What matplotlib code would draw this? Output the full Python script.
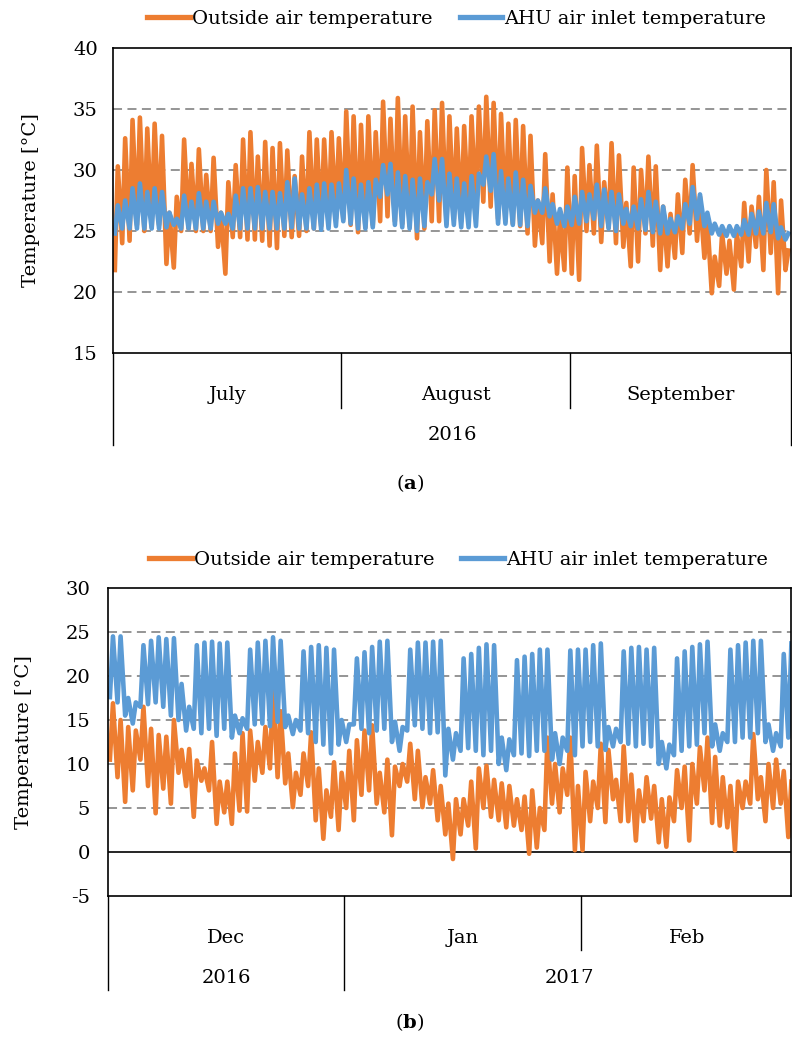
# -*- coding: utf-8 -*-

import numpy as np
import matplotlib
matplotlib.use("Agg")
import matplotlib.pyplot as plt

ORANGE = "#ED7D31"
BLUE = "#5B9BD5"
GRID_GRAY = "#8C8C8C"
FONT_SIZE = 14

# (a) summer 2016, one (min, max) pair per day
MONTHS_A = ["July", "August", "September"]
MONTH_DAYS_A = [31, 31, 30]
YEARS_A = ["2016"]
YEAR_DAYS_A = [92]

OUT_MAX_A = [
    30.3, 32.6, 34.1, 34.3, 33.4, 33.8, 32.8, 26.5, 27.8, 32.5, 30.5, 31.7, 29.6, 31.0, 26.5, 29.0,
    30.4, 32.5, 33.1, 31.1, 32.3, 31.8, 32.2, 31.6, 29.5, 31.1, 33.1, 32.5, 32.5, 33.1, 32.6,
    34.8, 34.4, 33.7, 34.4, 33.1, 35.6, 34.2, 35.9, 34.4, 35.2, 33.1, 34.0, 34.9, 35.5, 34.4, 33.4,
    33.6, 34.4, 35.2, 36.0, 35.5, 34.6, 33.8, 34.1, 33.6, 32.8, 27.5, 31.3, 28.0, 26.0, 30.2,
    29.5, 31.8, 30.4, 32.0, 29.0, 32.2, 31.2, 27.3, 30.2, 30.0, 31.1, 30.3, 27.0, 26.4, 28.0,
    29.2, 30.4, 27.8, 25.9, 22.9, 24.8, 24.2, 24.8, 27.3, 27.0, 27.8, 30.0, 29.0, 27.5, 23.4]
OUT_MIN_A = [
    21.8, 24.0, 24.2, 25.5, 25.0, 25.3, 25.5, 22.3, 22.0, 25.0, 25.2, 25.0, 25.0, 25.0, 23.7, 21.5,
    24.5, 24.5, 24.3, 24.3, 24.2, 23.8, 23.6, 24.6, 24.5, 24.6, 25.0, 25.2, 25.4, 25.5, 26.0,
    26.0, 25.5, 24.9, 25.3, 25.5, 25.8, 26.2, 25.8, 25.6, 25.4, 24.4, 25.2, 25.8, 25.8, 25.6, 26.0,
    25.8, 26.2, 26.8, 27.4, 27.0, 26.0, 25.8, 25.6, 25.4, 24.8, 23.8, 24.0, 22.5, 21.5, 21.8,
    21.5, 21.0, 25.0, 24.8, 24.1, 25.3, 24.0, 23.7, 22.1, 22.5, 24.8, 23.8, 21.8, 22.1, 22.8,
    23.2, 24.8, 24.2, 22.8, 19.9, 20.5, 21.5, 20.2, 22.1, 22.5, 23.7, 21.8, 23.2, 19.9, 21.8]
AHU_MAX_A = [
    27.1, 27.5, 28.5, 28.9, 28.2, 28.5, 28.2, 26.5, 26.0, 27.9, 27.4, 28.1, 27.4, 27.4, 26.5, 26.4,
    27.9, 28.5, 28.5, 28.6, 28.2, 28.2, 28.1, 29.0, 29.3, 28.0, 28.5, 28.8, 28.9, 28.8, 28.9,
    30.0, 29.3, 28.8, 29.0, 29.2, 30.4, 30.5, 29.8, 29.5, 29.2, 29.3, 29.0, 30.9, 30.9, 29.7, 29.3,
    28.9, 29.5, 29.7, 31.1, 31.3, 29.9, 29.3, 29.8, 29.2, 28.7, 27.5, 28.5, 27.2, 26.8, 27.0,
    27.8, 28.2, 28.0, 28.8, 28.4, 28.2, 28.0, 26.8, 27.0, 27.6, 28.2, 27.4, 27.0, 26.0, 26.2,
    27.2, 28.6, 28.0, 26.5, 25.6, 25.4, 25.4, 25.4, 25.9, 26.4, 26.6, 27.3, 27.2, 25.3, 24.8]
AHU_MIN_A = [
    24.8, 25.2, 25.2, 25.2, 25.2, 25.2, 25.2, 25.3, 25.5, 25.2, 25.2, 25.2, 25.2, 25.2, 25.6, 25.6,
    25.2, 25.2, 25.2, 25.2, 25.2, 25.2, 25.2, 25.2, 25.3, 25.2, 25.2, 25.2, 25.1, 25.2, 25.4,
    25.8, 25.6, 25.2, 25.2, 25.3, 27.8, 28.0, 25.5, 25.3, 25.2, 25.0, 25.4, 28.0, 27.5, 25.4, 25.5,
    25.3, 25.3, 25.4, 28.8, 28.3, 25.6, 25.6, 25.5, 25.5, 25.4, 26.5, 26.5, 26.2, 25.6, 25.4,
    25.5, 25.6, 25.8, 26.0, 25.4, 25.2, 25.0, 25.6, 25.4, 25.2, 25.1, 24.9, 24.8, 24.8, 24.9,
    25.2, 25.6, 26.0, 25.4, 24.8, 24.7, 24.6, 24.6, 24.7, 24.7, 24.8, 24.8, 24.9, 24.4, 24.3]

# (b) winter 2016/2017
MONTHS_B = ["Dec", "Jan", "Feb"]
MONTH_DAYS_B = [31, 31, 28]
YEARS_B = ["2016", "2017"]
YEAR_DAYS_B = [31, 59]

OUT_MAX_B = [
    16.9, 15.0, 14.2, 13.8, 16.5, 14.0, 13.3, 13.1, 15.0, 11.6, 11.7, 10.4, 9.5, 12.5, 8.0, 8.0,
    11.2, 13.5, 13.8, 12.5, 14.2, 18.8, 16.0, 11.2, 9.0, 11.2, 13.6, 9.5, 7.0, 10.2, 9.0,
    11.5, 12.7, 13.8, 14.4, 9.0, 10.5, 9.7, 10.0, 12.3, 11.5, 8.5, 9.3, 7.5, 5.5, 6.0, 6.0,
    8.0, 9.5, 9.8, 8.2, 7.8, 7.5, 6.0, 6.3, 7.0, 5.0, 13.0, 10.0, 9.5, 13.0, 7.5,
    9.1, 8.0, 12.3, 11.6, 8.2, 12.0, 8.8, 7.0, 8.5, 7.5, 6.0, 6.2, 9.3, 9.7,
    10.0, 11.9, 13.0, 10.8, 8.5, 7.5, 8.0, 8.0, 13.4, 8.5, 10.0, 10.5, 9.2, 8.0]
OUT_MIN_B = [
    10.5, 8.5, 5.7, 7.0, 10.5, 7.5, 4.4, 7.2, 5.5, 9.0, 7.5, 4.0, 8.1, 7.0, 3.2, 4.5,
    3.2, 4.7, 4.6, 8.1, 9.0, 9.5, 8.5, 7.8, 5.1, 6.5, 7.5, 3.6, 1.5, 4.0, 2.5,
    5.0, 3.6, 6.5, 7.0, 5.5, 4.5, 1.9, 7.5, 8.0, 6.0, 5.1, 5.5, 3.6, 2.0, -0.8, 2.0,
    3.0, 0.4, 5.0, 4.0, 3.6, 2.8, 3.0, 2.5, -0.2, 0.5, 2.5, 5.5, 4.5, 6.5, 0.2,
    0.2, 3.5, 5.0, 3.4, 6.0, 3.5, 3.5, 1.3, 3.5, 3.8, 1.1, 0.6, 3.5, 5.0,
    1.3, 5.5, 7.0, 3.3, 3.0, 2.8, 0.2, 5.0, 5.5, 6.0, 3.5, 5.0, 5.5, 1.7]
AHU_MAX_B = [
    24.5, 24.5, 17.5, 17.0, 23.5, 24.0, 24.4, 24.2, 24.3, 19.1, 16.5, 23.5, 23.8, 23.9, 23.7, 23.8,
    15.5, 15.2, 23.0, 23.8, 24.0, 24.4, 24.0, 15.5, 15.0, 22.8, 23.3, 23.5, 23.2, 23.0, 15.0,
    14.5, 22.0, 22.7, 23.3, 23.9, 24.0, 14.8, 14.2, 23.0, 23.8, 23.8, 23.9, 24.0, 14.0, 13.5, 22.0,
    22.5, 23.2, 23.6, 23.5, 13.0, 12.8, 21.8, 22.2, 22.5, 23.0, 23.0, 13.5, 13.0, 22.9, 23.0,
    23.0, 23.5, 23.7, 14.2, 14.0, 22.8, 23.2, 23.3, 23.0, 23.2, 12.5, 12.2, 22.0, 22.8,
    23.3, 23.6, 23.9, 14.5, 13.5, 23.0, 23.5, 23.8, 24.0, 24.0, 14.5, 13.5, 22.5, 23.7]
AHU_MIN_B = [
    17.6, 17.0, 15.5, 14.6, 16.5, 16.8, 17.0, 16.5, 15.5, 15.0, 13.8, 14.0, 13.5, 14.0, 13.2, 14.0,
    13.0, 13.5, 14.0, 14.5, 14.6, 14.3, 14.8, 14.2, 13.4, 13.8, 13.5, 12.5, 12.2, 11.2, 12.2,
    12.5, 14.5, 14.0, 13.5, 13.8, 14.0, 12.5, 11.5, 13.8, 14.4, 14.0, 13.5, 13.6, 8.7, 10.5, 11.5,
    11.8, 11.5, 11.0, 11.5, 10.0, 9.3, 11.0, 11.2, 10.9, 11.5, 11.5, 10.5, 10.0, 11.5, 11.0,
    12.0, 12.5, 12.0, 11.6, 12.0, 12.5, 12.3, 12.0, 12.3, 12.0, 10.0, 9.5, 11.0, 11.5,
    12.0, 12.2, 13.5, 12.0, 11.5, 12.5, 12.5, 13.0, 13.0, 13.5, 12.5, 11.5, 12.0, 13.0]


def daily_series(day_min, day_max):
    # two readings per day: night low, then afternoon high
    days = np.arange(len(day_min))
    t = np.column_stack([days + 0.25, days + 0.65]).ravel()
    v = np.column_stack([day_min, day_max]).ravel()
    return t, v


def draw_category_axis(ax, months, month_days, years, year_days, row1, row2, lab1, lab2):
    tr = ax.get_xaxis_transform()
    month_edges = np.concatenate([[0], np.cumsum(month_days)])
    year_edges = np.concatenate([[0], np.cumsum(year_days)])

    for e in month_edges:
        low = row2 if e in year_edges else row1
        ax.plot([e, e], [0, low], color="black", lw=1.0, transform=tr, clip_on=False)

    for i, name in enumerate(months):
        c = (month_edges[i] + month_edges[i + 1]) / 2.0
        ax.text(c, lab1, name, transform=tr, ha="center", va="center", fontsize=FONT_SIZE)

    for i, name in enumerate(years):
        c = (year_edges[i] + year_edges[i + 1]) / 2.0
        ax.text(c, lab2, name, transform=tr, ha="center", va="center", fontsize=FONT_SIZE)


def draw_panel(ax, out_min, out_max, ahu_min, ahu_max, ylim, yticks, xmax, legend_xy, label_x, pad):
    t, v = daily_series(out_min, out_max)
    ax.plot(t, v, color=ORANGE, lw=3.3, solid_joinstyle="round", label="Outside air temperature")
    t, v = daily_series(ahu_min, ahu_max)
    ax.plot(t, v, color=BLUE, lw=3.3, solid_joinstyle="round", label="AHU air inlet temperature")

    ax.set_xlim(0, xmax)
    ax.set_ylim(*ylim)
    ax.set_yticks(yticks)
    ax.set_yticklabels(["%d" % y for y in yticks])
    ax.set_xticks([])
    ax.tick_params(axis="y", length=0, pad=pad, labelsize=FONT_SIZE)

    for y in yticks[1:-1]:
        if y == 0:
            ax.axhline(y, color="black", lw=1.2, zorder=1)
        else:
            ax.axhline(y, color=GRID_GRAY, lw=1.3, ls=(0, (5, 3)), zorder=1)

    for s in ax.spines.values():
        s.set_color("black")
        s.set_linewidth(1.2)

    ax.set_ylabel("Temperature [\u00b0C]", fontsize=FONT_SIZE)
    ax.yaxis.set_label_coords(label_x, 0.5)

    ax.legend(loc="center", bbox_to_anchor=legend_xy, ncol=2, frameon=False,
              fontsize=FONT_SIZE, handlelength=2.2, handletextpad=0.1,
              columnspacing=1.4, borderaxespad=0)
    for line in ax.get_legend().get_lines():
        line.set_linewidth(3.8)


def main():
    plt.rcParams["font.family"] = ["DejaVu Serif"]
    plt.rcParams["mathtext.fontset"] = "custom"
    plt.rcParams["mathtext.rm"] = "DejaVu Serif"
    plt.rcParams["mathtext.bf"] = "DejaVu Serif:bold"

    fig = plt.figure(figsize=(7.92, 10.45), dpi=100)

    ax_a = fig.add_axes([113 / 792, 1 - 353 / 1045, 678 / 792, 305 / 1045])
    draw_panel(ax_a, OUT_MIN_A, OUT_MAX_A, AHU_MIN_A, AHU_MAX_A,
               (15, 40), [15, 20, 25, 30, 35, 40], 92, (0.507, 1.095), -0.108, 11)
    draw_category_axis(ax_a, MONTHS_A, MONTH_DAYS_A, YEARS_A, YEAR_DAYS_A,
                       -0.18, -0.302, -0.138, -0.269)

    ax_b = fig.add_axes([108 / 792, 1 - 896 / 1045, 683 / 792, 308 / 1045])
    draw_panel(ax_b, OUT_MIN_B, OUT_MAX_B, AHU_MIN_B, AHU_MAX_B,
               (-5, 30), [-5, 0, 5, 10, 15, 20, 25, 30], 89.6, (0.513, 1.091), -0.11, 13)
    draw_category_axis(ax_b, MONTHS_B, MONTH_DAYS_B, YEARS_B, YEAR_DAYS_B,
                       -0.175, -0.305, -0.136, -0.266)

    fig.text(410 / 792, 1 - 483 / 1045, r"($\mathbf{a}$)", ha="center", va="center", fontsize=FONT_SIZE)
    fig.text(410 / 792, 1 - 1022 / 1045, r"($\mathbf{b}$)", ha="center", va="center", fontsize=FONT_SIZE)

    fig.savefig("out.png", dpi=100)
    return 0


if __name__ == "__main__":
    ret = main()
    print("Program returned: %d" % (ret))
